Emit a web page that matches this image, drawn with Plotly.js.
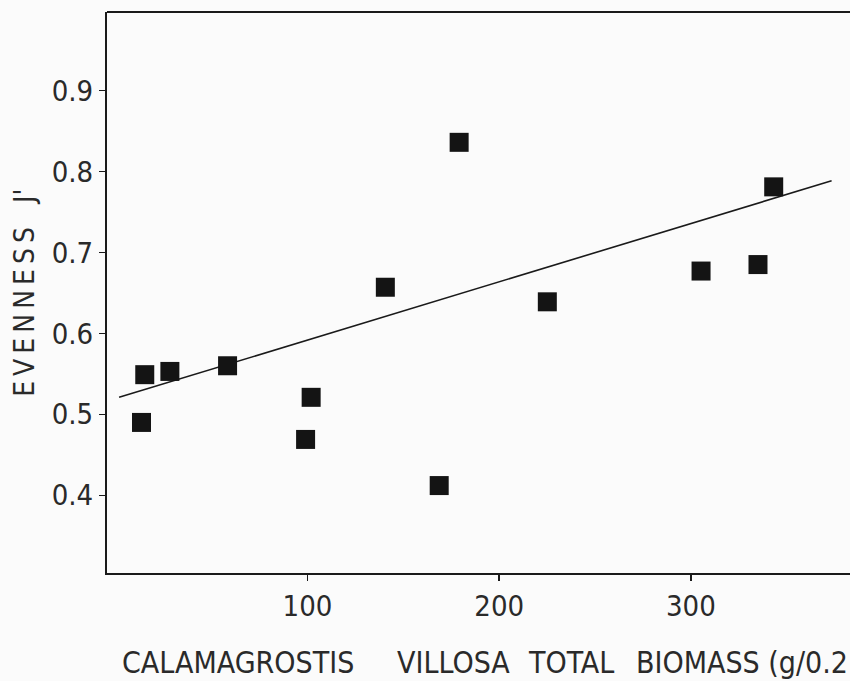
<!DOCTYPE html>
<html>
<head>
<meta charset="utf-8">
<script src="https://cdn.plot.ly/plotly-3.0.1.min.js"></script>
<style>
  html, body { margin: 0; padding: 0; background: #fbfbfb; overflow: hidden; }
  #chart { width: 850px; height: 681px; }
</style>
</head>
<body>
<div id="chart"></div>
<script>
// Data
const biomass  = [13.4, 15.1, 28.2, 58.3, 99.0, 101.9, 140.6, 168.7, 179.1, 225.1, 305.3, 335.0, 343.2];
const evenness = [0.490, 0.549, 0.553, 0.560, 0.469, 0.521, 0.657, 0.412, 0.836, 0.639, 0.677, 0.685, 0.781];
const fitX = [1.7, 373.4];
const fitY = [0.521, 0.7885];
const xTicks = [100, 200, 300];
const yTicks = [0.4, 0.5, 0.6, 0.7, 0.8, 0.9];
// x-axis title as it is visible in the reference (cut at the right edge there)
const xTitleWords = ["CALAMAGROSTIS", "VILLOSA", "TOTAL", "BIOMASS (g/0.2"];
const yTitleWords = ["EVENNESS", "J'"];

const FONT = "Liberation Sans Narrow, DejaVu Sans Condensed, Arial Narrow, sans-serif";
const INK = "#1a1a1a";
const NB = "\u00a0", TH = "\u2009";

// plot area in pixels (for placing the widely spaced words of the x title)
const PL = 107, PW = 743;
const wordPx = [120, 395, 526, 850];
const wordAnchor = ["left", "left", "left", "right"];

const yTitle = yTitleWords[0].split("").join(TH) + NB.repeat(3) + yTitleWords[1];

const traces = [
  {
    x: fitX, y: fitY, type: "scatter", mode: "lines",
    line: { color: INK, width: 1.6 }, hoverinfo: "skip"
  },
  {
    x: biomass, y: evenness, type: "scatter", mode: "markers",
    marker: { symbol: "square", size: 19, color: "#141414", line: { width: 0 } }
  }
];

const annotations = xTitleWords.map((w, i) => ({
  text: w, xref: "paper", yref: "paper",
  x: (wordPx[i] - PL) / PW, y: -0.16,
  xanchor: wordAnchor[i], yanchor: "middle", showarrow: false,
  font: { family: FONT, size: 30, color: "#2a2a2a" }
}));
annotations.push({
  text: yTitle, xref: "paper", yref: "paper", x: -0.112, y: 0.499,
  xanchor: "center", yanchor: "middle", textangle: -90, showarrow: false,
  font: { family: FONT, size: 28, color: "#2a2a2a" }
});

const layout = {
  width: 850, height: 681,
  margin: { l: 107, r: 0, t: 12, b: 108 },
  paper_bgcolor: "#fbfbfb", plot_bgcolor: "#fbfbfb",
  showlegend: false,
  font: { family: FONT, color: INK, size: 28 },
  xaxis: {
    range: [-4.6, 383.0],
    tickvals: xTicks,
    ticktext: xTicks.map(String),
    showgrid: false, zeroline: false,
    showline: true, linecolor: INK, linewidth: 2,
    ticks: "outside", ticklen: 6, tickwidth: 1.5, tickcolor: INK,
    tickfont: { family: FONT, size: 29, color: "#2a2a2a" },
    fixedrange: true
  },
  yaxis: {
    range: [0.304, 0.997],
    tickvals: yTicks,
    ticktext: yTicks.map(v => v.toFixed(1)),
    showgrid: false, zeroline: false,
    showline: true, linecolor: INK, linewidth: 2,
    ticks: "outside", ticklen: 6, tickwidth: 1.5, tickcolor: INK,
    tickfont: { family: FONT, size: 29, color: "#2a2a2a" },
    fixedrange: true
  },
  shapes: [
    { type: "line", xref: "paper", yref: "paper", x0: 0, x1: 1, y0: 1, y1: 1,
      line: { color: INK, width: 2 } }
  ],
  annotations: annotations
};

Plotly.newPlot("chart", traces, layout, { staticPlot: true, displayModeBar: false });
</script>
</body>
</html>
